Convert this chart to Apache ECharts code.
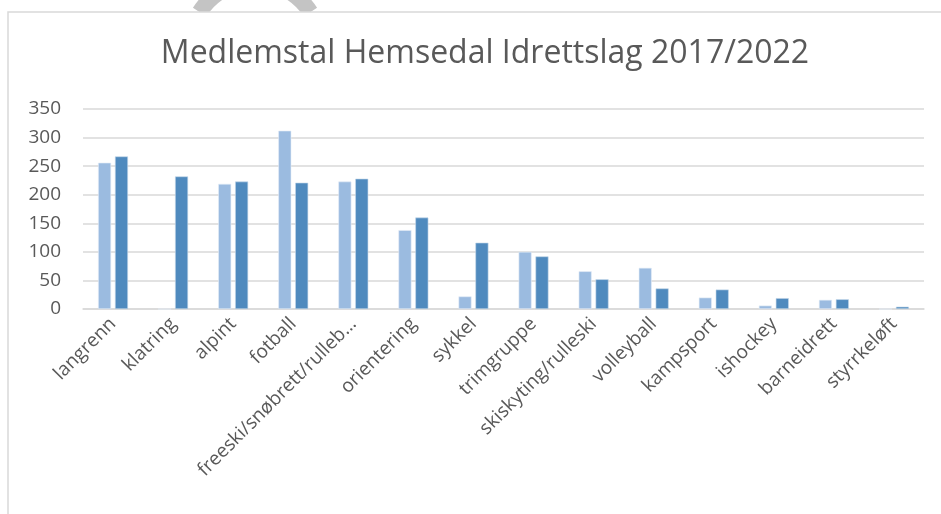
<!DOCTYPE html>
<html>
<head>
<meta charset="utf-8">
<script src="https://cdn.jsdelivr.net/npm/echarts@6/dist/echarts.min.js"></script>
<style>
html, body { margin: 0; padding: 0; background: #fff; }
#main { width: 941px; height: 514px; }
</style>
</head>
<body>
<div id="main"></div>
<script>
// kategoriar og medlemstal
var categories = ['langrenn', 'klatring', 'alpint', 'fotball', 'freeski/snøbrett/rulleb…', 'orientering',
    'sykkel', 'trimgruppe', 'skiskyting/rulleski', 'volleyball', 'kampsport', 'ishockey', 'barneidrett', 'styrrkeløft'];
var members2017 = [256, 0, 219, 312, 223, 138, 22, 100, 66, 72, 20, 6, 16, 0];
var members2022 = [267, 232, 223, 221, 228, 160, 116, 92, 52, 36, 34, 19, 17, 4];
var yTicks = [0, 50, 100, 150, 200, 250, 300, 350];

var myChart = echarts.init(document.getElementById('main'));

var textColor = '#595959';
var fontName = '"Open Sans", "Noto Sans", sans-serif';

var option = {
    animation: false,
    backgroundColor: '#fff',
    title: {
        text: 'Medlemstal Hemsedal Idrettslag 2017/2022',
        left: 480,
        textAlign: 'center',
        top: 33,
        textStyle: {
            color: textColor,
            fontSize: 32,
            fontWeight: 'normal',
            fontFamily: fontName
        }
    },
    graphic: [
        {
            type: 'arc',
            z: -10,
            shape: { cx: 255, cy: 48, r: 66, startAngle: -147 * Math.PI / 180, endAngle: -33 * Math.PI / 180, clockwise: true },
            style: { stroke: '#c4c4c4', lineWidth: 16, fill: null }
        },
        {
            type: 'rect',
            z: -5,
            shape: { x: 8, y: 12, width: 1000, height: 600 },
            style: { stroke: '#d9d9d9', lineWidth: 1.5, fill: '#fff' }
        }
    ],
    grid: {
        left: 83,
        right: 17,
        top: 109,
        bottom: 205
    },
    xAxis: {
        type: 'category',
        data: categories,
        axisLine: { lineStyle: { color: '#d9d9d9', width: 1.5 } },
        axisTick: { show: false },
        axisLabel: {
            interval: 0,
            rotate: 45,
            margin: 12,
            color: textColor,
            fontSize: 19,
            fontFamily: fontName
        }
    },
    yAxis: {
        type: 'value',
        min: yTicks[0],
        max: yTicks[yTicks.length - 1],
        interval: 50,
        axisLine: { show: false },
        axisTick: { show: false },
        splitLine: { lineStyle: { color: '#d9d9d9', width: 1.5 } },
        axisLabel: {
            margin: 22,
            color: textColor,
            fontSize: 19,
            fontFamily: fontName
        }
    },
    series: [
        {
            name: '2017',
            type: 'bar',
            data: members2017,
            barWidth: 13,
            barGap: '30%',
            itemStyle: { color: '#9bbbe0', borderColor: '#e4edf7', borderWidth: 0.6 }
        },
        {
            name: '2022',
            type: 'bar',
            data: members2022,
            barWidth: 13,
            itemStyle: { color: '#4f8abe', borderColor: '#c5d7ea', borderWidth: 0.6 }
        }
    ]
};

myChart.setOption(option);
</script>
</body>
</html>
